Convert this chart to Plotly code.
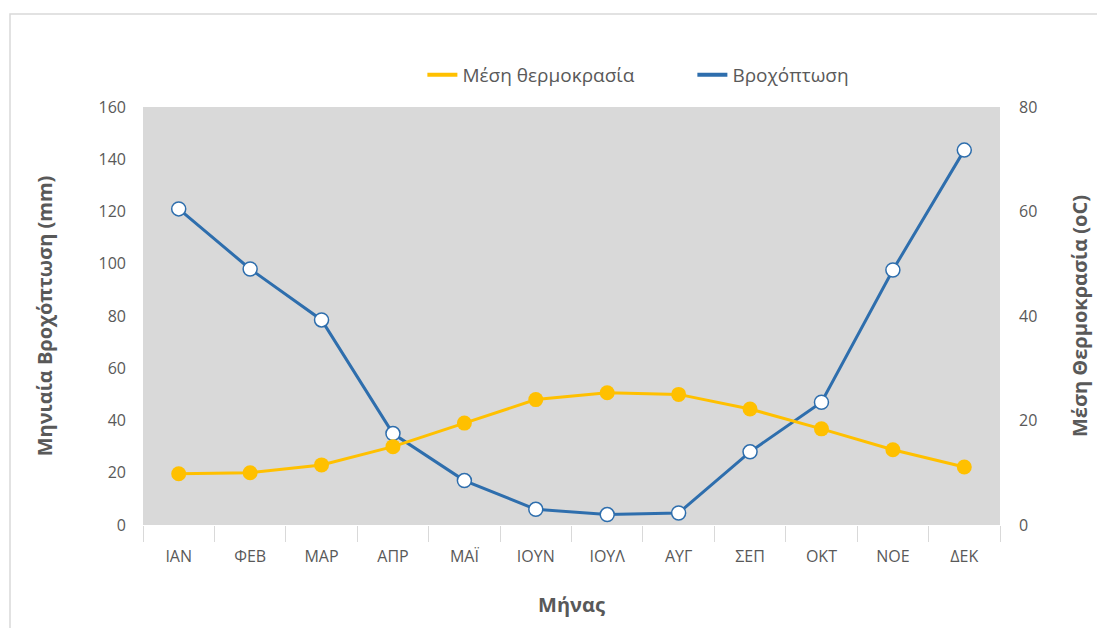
import plotly.graph_objects as go

# Data
months = ["ΙΑΝ", "ΦΕΒ", "ΜΑΡ", "ΑΠΡ", "ΜΑΪ", "ΙΟΥΝ", "ΙΟΥΛ", "ΑΥΓ", "ΣΕΠ", "ΟΚΤ", "ΝΟΕ", "ΔΕΚ"]
rain_mm = [121, 98, 78.5, 35, 17, 6, 4, 4.6, 28, 47, 97.6, 143.5]
temp_c = [9.8, 10, 11.5, 15, 19.5, 24, 25.3, 25, 22.2, 18.4, 14.4, 11.1]

BLUE = "#2E6EAD"
YELLOW = "#FFC000"
GREY_TXT = "#595959"
FONT = "Open Sans"

fig = go.Figure()

# temperature on the right axis
fig.add_trace(go.Scatter(
    x=months, y=temp_c, yaxis="y2",
    mode="lines+markers", name="Μέση θερμοκρασία",
    line=dict(color=YELLOW, width=3),
    marker=dict(color=YELLOW, size=15),
    showlegend=False,
))

# rainfall on the left axis
fig.add_trace(go.Scatter(
    x=months, y=rain_mm,
    mode="lines+markers", name="Βροχόπτωση",
    line=dict(color=BLUE, width=3),
    marker=dict(color="white", size=14, line=dict(color=BLUE, width=1.5)),
    showlegend=False,
))

# legend entries (line only, like the original)
fig.add_trace(go.Scatter(x=[None], y=[None], mode="lines", name="Μέση θερμοκρασία",
                         line=dict(color=YELLOW, width=4)))
fig.add_trace(go.Scatter(x=[None], y=[None], mode="lines", name="Βροχόπτωση",
                         line=dict(color=BLUE, width=4)))

fig.update_layout(
    width=1105, height=628,
    margin=dict(l=135, r=113, t=99, b=111),
    paper_bgcolor="white",
    plot_bgcolor="#D9D9D9",
    font=dict(family=FONT, color=GREY_TXT, size=16),
    legend=dict(orientation="h", x=0.326, xanchor="left", y=1.077, yanchor="middle",
                font=dict(size=19), itemwidth=30, entrywidth=225,
                bgcolor="rgba(0,0,0,0)"),
    xaxis=dict(
        type="category", showgrid=False, zeroline=False,
        ticks="outside", tickson="boundaries", ticklen=16, tickcolor="#D9D9D9",
        ticklabelstandoff=20, tickfont=dict(size=16),
        title=dict(text="<b>Μήνας</b>", font=dict(size=20), standoff=31),
        range=[-0.5, 11.5],
    ),
    yaxis=dict(
        range=[0, 160], dtick=20, showgrid=False, zeroline=False,
        ticklabelstandoff=16, tickfont=dict(size=16),
        title=dict(text="<b>Μηνιαία Βροχόπτωση (mm)</b>", font=dict(size=20), standoff=40),
    ),
    yaxis2=dict(
        range=[0, 80], dtick=20, overlaying="y", side="right",
        showgrid=False, zeroline=False,
        ticklabelstandoff=18, tickfont=dict(size=16),
        title=dict(text="<b>Μέση Θερμοκρασία (oC)</b>", font=dict(size=20), standoff=36),
    ),
    shapes=[dict(type="rect", xref="paper", yref="paper",
                 x0=-0.1552, x1=1.3, y0=-0.5, y1=1.2225,
                 line=dict(color="#D9D9D9", width=1.5), layer="below")],
)

fig.write_html("out.html")
